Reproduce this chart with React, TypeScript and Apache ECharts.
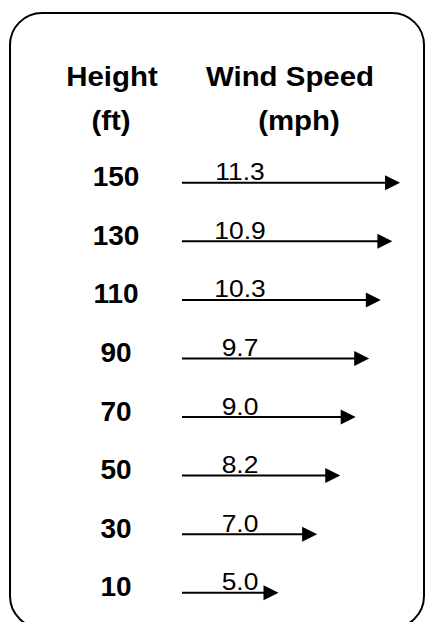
import React, { useEffect, useRef } from "react";
import * as echarts from "echarts";

const heights = ["10", "30", "50", "70", "90", "110", "130", "150"];
const windSpeeds = [5.0, 7.0, 8.2, 9.0, 9.7, 10.3, 10.9, 11.3];
const speedLabels = ["5.0", "7.0", "8.2", "9.0", "9.7", "10.3", "10.9", "11.3"];
const headerLeft = ["Height", "(ft)"];
const headerRight = ["Wind Speed", "(mph)"];

const FONT = "'Liberation Sans', Arial, Helvetica, sans-serif";

export default function App() {
  const ref = useRef<HTMLDivElement>(null);
  useEffect(() => {
    const chart = echarts.init(ref.current!, null, { renderer: "svg" });
    const header = (text: string, x: number, y: number) => ({
      type: "text",
      x,
      y,
      scaleX: 1.09,
      style: {
        text,
        fontSize: 27,
        fontWeight: "bold",
        fontFamily: FONT,
        fill: "#000",
        align: "center",
        verticalAlign: "middle",
      },
    });
    chart.setOption({
      animation: false,
      backgroundColor: "#fff",
      grid: { left: 182, top: 153.5, width: 231.6, height: 472 },
      xAxis: { type: "value", min: 0, max: 12, show: false },
      yAxis: {
        type: "category",
        data: heights,
        axisLine: { show: false },
        axisTick: { show: false },
        splitLine: { show: false },
        axisLabel: {
          fontSize: 28,
          fontWeight: "bold",
          color: "#000",
          fontFamily: FONT,
          align: "center",
          verticalAlign: "bottom",
          lineHeight: 12,
          margin: 66,
        },
      },
      series: [
        {
          type: "custom",
          data: windSpeeds.map((v, i) => [v, i]),
          renderItem: (params: any, api: any) => {
            const v = api.value(0);
            const c = api.value(1);
            const start = api.coord([0, c]);
            const end = api.coord([v, c]);
            const headLen = 15;
            const headHalf = 7.5;
            const y = start[1];
            return {
              type: "group",
              children: [
                {
                  type: "line",
                  shape: { x1: start[0], y1: y, x2: end[0] - headLen + 1, y2: y },
                  style: { stroke: "#000", lineWidth: 2 },
                },
                {
                  type: "polygon",
                  shape: {
                    points: [
                      [end[0] - headLen, y - headHalf],
                      [end[0], y],
                      [end[0] - headLen, y + headHalf],
                    ],
                  },
                  style: { fill: "#000" },
                },
                {
                  type: "text",
                  x: start[0] + 58,
                  y: y - 11,
                  scaleX: 1.1,
                  style: {
                    text: speedLabels[params.dataIndex],
                    fontSize: 24,
                    fontFamily: FONT,
                    fill: "#000",
                    align: "center",
                    verticalAlign: "middle",
                  },
                },
              ],
            };
          },
        },
      ],
      graphic: [
        {
          type: "rect",
          shape: { x: 10, y: 13, width: 414, height: 615, r: 32 },
          style: { fill: "none", stroke: "#000", lineWidth: 2 },
        },
        header(headerLeft[0], 112, 76),
        header(headerLeft[1], 111, 120),
        header(headerRight[0], 290, 76),
        header(headerRight[1], 299, 120),
      ],
    });
    return () => chart.dispose();
  }, []);
  return (
    <div
      ref={ref}
      style={{ position: "fixed", left: 0, top: 0, width: 425, height: 622 }}
    />
  );
}
